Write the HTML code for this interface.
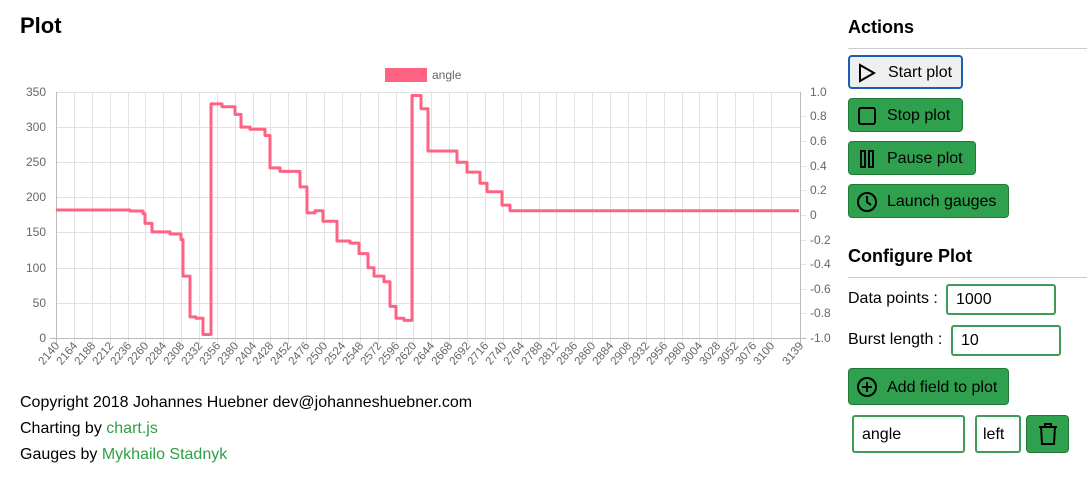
<!DOCTYPE html>
<html><head><meta charset="utf-8"><style>
body{margin:0;width:1087px;height:477px;background:#fff;font-family:"Liberation Sans",sans-serif;position:relative;overflow:hidden;color:#000}
.a{position:absolute}
h1{position:absolute;margin:0;font-size:22px;font-weight:bold}
h2{position:absolute;margin:0;font-size:18px;font-weight:bold}
.hr{position:absolute;height:1px;background:#ccc;left:848px;width:239px}
.btn{position:absolute;left:848px;height:34px;border:1px solid #1f7a37;background:#2fa04e;border-radius:4px;box-sizing:border-box;font-size:16px;line-height:34px;padding-left:38px}
.btn svg{position:absolute;left:7px;top:6px}
.inp{position:absolute;border:2px solid #3d9c57;border-radius:3px;box-sizing:border-box;font-size:16px;padding-left:8px;line-height:28px}
.ft{position:absolute;left:20px;font-size:16px}
.g{color:#2e9e47}
</style></head><body>
<h1 style="left:20px;top:13px">Plot</h1>
<svg class="a" style="left:0;top:0" width="840" height="380" font-family="Liberation Sans, sans-serif">
<rect x="385" y="68" width="42" height="14" fill="#ff6384"/>
<text x="432" y="79" font-size="12" fill="#666">angle</text>
<g stroke="#e2e2e2" stroke-width="1">
<line x1="56" x2="800" y1="92.5" y2="92.5"/><line x1="56" x2="800" y1="127.5" y2="127.5"/><line x1="56" x2="800" y1="162.5" y2="162.5"/><line x1="56" x2="800" y1="197.5" y2="197.5"/><line x1="56" x2="800" y1="232.5" y2="232.5"/><line x1="56" x2="800" y1="268.5" y2="268.5"/><line x1="56" x2="800" y1="303.5" y2="303.5"/>
<line x1="800" x2="806" y1="116.5" y2="116.5"/><line x1="800" x2="806" y1="141.5" y2="141.5"/><line x1="800" x2="806" y1="166.5" y2="166.5"/><line x1="800" x2="806" y1="190.5" y2="190.5"/><line x1="800" x2="806" y1="215.5" y2="215.5"/><line x1="800" x2="806" y1="240.5" y2="240.5"/><line x1="800" x2="806" y1="264.5" y2="264.5"/><line x1="800" x2="806" y1="289.5" y2="289.5"/><line x1="800" x2="806" y1="313.5" y2="313.5"/>
<path d="M74.5 92V344M92.5 92V344M110.5 92V344M128.5 92V344M145.5 92V344M163.5 92V344M181.5 92V344M199.5 92V344M217.5 92V344M235.5 92V344M253.5 92V344M270.5 92V344M288.5 92V344M306.5 92V344M324.5 92V344M342.5 92V344M360.5 92V344M378.5 92V344M396.5 92V344M413.5 92V344M431.5 92V344M449.5 92V344M467.5 92V344M485.5 92V344M503.5 92V344M521.5 92V344M539.5 92V344M556.5 92V344M574.5 92V344M592.5 92V344M610.5 92V344M628.5 92V344M646.5 92V344M664.5 92V344M682.5 92V344M699.5 92V344M717.5 92V344M735.5 92V344M753.5 92V344M771.5 92V344"/>
</g>
<g stroke="#bbb"><line x1="56.5" x2="56.5" y1="92" y2="344"/><line x1="800.5" x2="800.5" y1="92" y2="344"/><line x1="50" x2="806" y1="338.5" y2="338.5"/></g>
<g font-size="12" fill="#666" text-anchor="end">
<text x="46" y="96">350</text><text x="46" y="131">300</text><text x="46" y="166">250</text><text x="46" y="201">200</text><text x="46" y="236">150</text><text x="46" y="272">100</text><text x="46" y="307">50</text><text x="46" y="342">0</text>
</g>
<g font-size="12" fill="#666">
<text x="810" y="96">1.0</text><text x="810" y="120">0.8</text><text x="810" y="145">0.6</text><text x="810" y="170">0.4</text><text x="810" y="194">0.2</text><text x="810" y="219">0</text><text x="810" y="244">-0.2</text><text x="810" y="268">-0.4</text><text x="810" y="293">-0.6</text><text x="810" y="317">-0.8</text><text x="810" y="342">-1.0</text>
</g>
<g font-size="11.5" fill="#666" text-anchor="end">
<text transform="translate(60,346) rotate(-50)">2140</text><text transform="translate(78,346) rotate(-50)">2164</text><text transform="translate(96,346) rotate(-50)">2188</text><text transform="translate(114,346) rotate(-50)">2212</text><text transform="translate(132,346) rotate(-50)">2236</text><text transform="translate(149,346) rotate(-50)">2260</text><text transform="translate(167,346) rotate(-50)">2284</text><text transform="translate(185,346) rotate(-50)">2308</text><text transform="translate(203,346) rotate(-50)">2332</text><text transform="translate(221,346) rotate(-50)">2356</text><text transform="translate(239,346) rotate(-50)">2380</text><text transform="translate(257,346) rotate(-50)">2404</text><text transform="translate(274,346) rotate(-50)">2428</text><text transform="translate(292,346) rotate(-50)">2452</text><text transform="translate(310,346) rotate(-50)">2476</text><text transform="translate(328,346) rotate(-50)">2500</text><text transform="translate(346,346) rotate(-50)">2524</text><text transform="translate(364,346) rotate(-50)">2548</text><text transform="translate(382,346) rotate(-50)">2572</text><text transform="translate(400,346) rotate(-50)">2596</text><text transform="translate(417,346) rotate(-50)">2620</text><text transform="translate(435,346) rotate(-50)">2644</text><text transform="translate(453,346) rotate(-50)">2668</text><text transform="translate(471,346) rotate(-50)">2692</text><text transform="translate(489,346) rotate(-50)">2716</text><text transform="translate(507,346) rotate(-50)">2740</text><text transform="translate(525,346) rotate(-50)">2764</text><text transform="translate(543,346) rotate(-50)">2788</text><text transform="translate(560,346) rotate(-50)">2812</text><text transform="translate(578,346) rotate(-50)">2836</text><text transform="translate(596,346) rotate(-50)">2860</text><text transform="translate(614,346) rotate(-50)">2884</text><text transform="translate(632,346) rotate(-50)">2908</text><text transform="translate(650,346) rotate(-50)">2932</text><text transform="translate(668,346) rotate(-50)">2956</text><text transform="translate(686,346) rotate(-50)">2980</text><text transform="translate(703,346) rotate(-50)">3004</text><text transform="translate(721,346) rotate(-50)">3028</text><text transform="translate(739,346) rotate(-50)">3052</text><text transform="translate(757,346) rotate(-50)">3076</text><text transform="translate(775,346) rotate(-50)">3100</text><text transform="translate(804,346) rotate(-50)">3139</text>
</g>
<path fill="none" stroke="#ff6384" stroke-width="3" stroke-linejoin="round" d="M56 210H130V211H143V213.6H145V223.4H152V231.9H170V234H181V239.6H183V276.1H190V316.9H196V318.3H203V334.5H211V103.9H222V106.7H235V114.4H241V127.1H250V129.2H265V135.5H270V167.9H280V171.4H300V186.9H307V212.9H315V210.8H323V221.3H337V241H350V243.1H359V253.6H368V267.7H374V276.1H384V281.8H390V306.4H396V318.3H404V320.4H412V95.5H421V108.8H428V151H457V162.3H467V172.1H480V183.3H487V191.8H502V205.1H510V210.8H799"/>
</svg>
<div class="ft" style="top:394px">Copyright 2018 Johannes Huebner dev@johanneshuebner.com</div>
<div class="ft" style="top:420px">Charting by <span class="g">chart.js</span></div>
<div class="ft" style="top:446px">Gauges by <span class="g">Mykhailo Stadnyk</span></div>

<h2 style="left:848px;top:17px">Actions</h2>
<div class="hr" style="top:48px"></div>
<div class="btn" style="top:55px;width:115px;background:#efefef;border:2px solid #1a5fb4;line-height:32px"><svg width="22" height="22" viewBox="0 0 22 22" style="left:6px;top:5px"><path d="M4 3L18 11L4 19Z" fill="none" stroke="#000" stroke-width="2"/></svg>Start plot</div>
<div class="btn" style="top:98px;width:115px"><svg width="22" height="22" viewBox="0 0 22 22"><rect x="3" y="3" width="16" height="16" rx="2" fill="none" stroke="#000" stroke-width="2"/></svg>Stop plot</div>
<div class="btn" style="top:141px;width:128px"><svg width="22" height="22" viewBox="0 0 22 22"><rect x="5" y="3" width="4" height="16" fill="none" stroke="#000" stroke-width="2"/><rect x="13" y="3" width="4" height="16" fill="none" stroke="#000" stroke-width="2"/></svg>Pause plot</div>
<div class="btn" style="top:184px;width:161px"><svg width="22" height="22" viewBox="0 0 22 22"><circle cx="11" cy="11" r="9" fill="none" stroke="#000" stroke-width="2"/><path d="M11 5V11L15 14" fill="none" stroke="#000" stroke-width="2"/></svg>Launch gauges</div>

<h2 style="left:848px;top:246px">Configure Plot</h2>
<div class="hr" style="top:277px"></div>
<div class="a" style="left:848px;top:290px;font-size:16px">Data points :</div>
<div class="inp" style="left:946px;top:284px;width:110px;height:31px">1000</div>
<div class="a" style="left:848px;top:331px;font-size:16px">Burst length :</div>
<div class="inp" style="left:951px;top:325px;width:110px;height:31px">10</div>
<div class="btn" style="top:368px;width:161px;height:37px;line-height:37px"><svg width="22" height="22" viewBox="0 0 22 22" style="top:7px"><circle cx="11" cy="11" r="9" fill="none" stroke="#000" stroke-width="2"/><path d="M11 6V16M6 11H16" stroke="#000" stroke-width="2"/></svg>Add field to plot</div>
<div class="inp" style="left:852px;top:415px;width:113px;height:38px;line-height:36px">angle</div>
<div class="inp" style="left:975px;top:415px;width:46px;height:38px;line-height:36px;padding-left:6px">left</div>
<div class="btn" style="left:1026px;top:415px;width:43px;height:38px;padding:0"><svg width="22" height="24" viewBox="0 0 22 24" style="left:10px;top:6px"><path d="M2 5H20M8 5V2H14V5M4 5L5 22H17L18 5" fill="none" stroke="#000" stroke-width="2"/></svg></div>
</body></html>
